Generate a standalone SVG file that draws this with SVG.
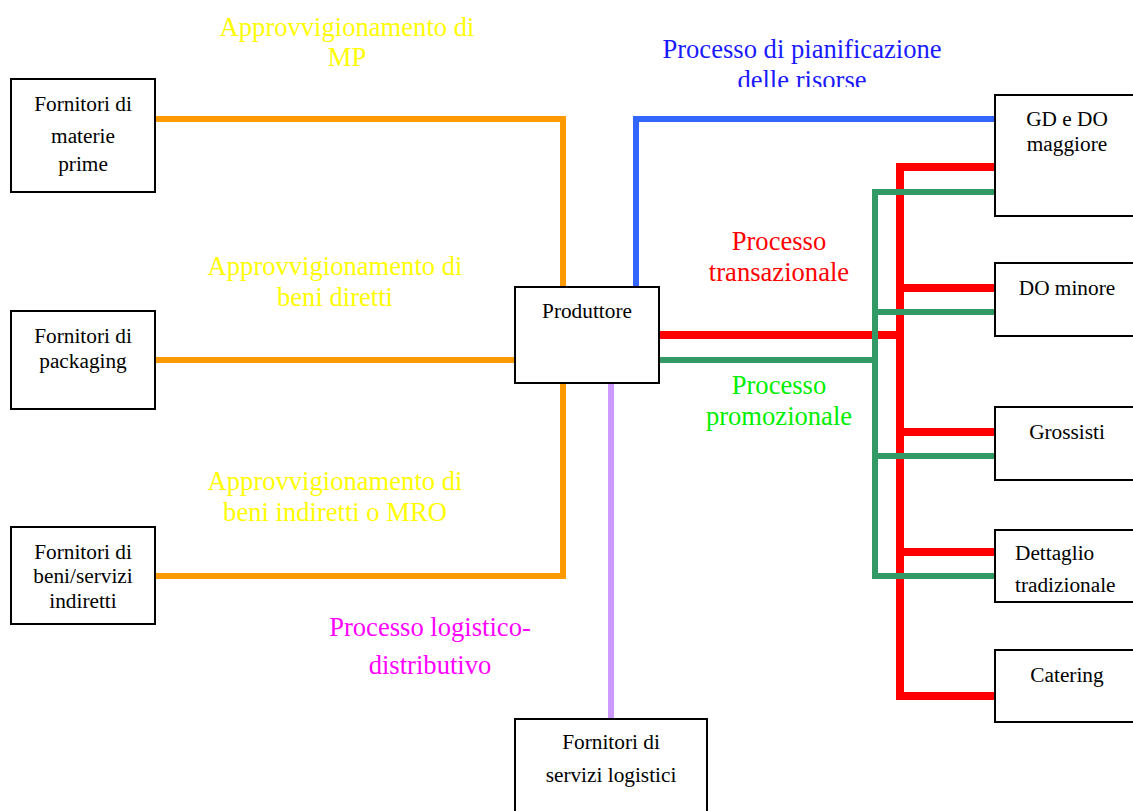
<svg xmlns="http://www.w3.org/2000/svg" width="1133" height="811" viewBox="0 0 1133 811">
  <style>
    .box { fill: #ffffff; stroke: #000000; stroke-width: 2; }
    .nt { font-family: 'Liberation Serif', 'DejaVu Serif', serif; font-size: 21.3px; fill: #000000; text-anchor: middle; }
    .nt.left { text-anchor: start; }
    .lbl { font-family: 'Liberation Serif', 'DejaVu Serif', serif; font-size: 26.6px; text-anchor: middle; }
    .c { fill: none; stroke-linejoin: miter; stroke-linecap: butt; }
    .orange { stroke: #FF9900; stroke-width: 6; }
    .blue { stroke: #3366FF; stroke-width: 6; }
    .red { stroke: #FF0000; stroke-width: 8; }
    .green { stroke: #339966; stroke-width: 6; }
    .purple { stroke: #CC99FF; stroke-width: 6; }
  </style>
  <defs>
    <clipPath id="topClip">
      <rect x="0" y="0" width="1133" height="87"/>
    </clipPath>
  </defs>
  <rect width="1133" height="811" fill="#ffffff"/>

  <!-- connectors -->
  <g id="connectors">
    <polyline class="c orange" points="155,119 563,119 563,287"/>
    <line class="c orange" x1="155" y1="360" x2="515" y2="360"/>
    <polyline class="c orange" points="155,576 563,576 563,383"/>
    <polyline class="c blue" points="636,287 636,119 995,119"/>
    <line class="c purple" x1="611" y1="383" x2="611" y2="719"/>
    <!-- transactional flow -->
    <polyline class="c red" points="659,335 900,335"/>
    <polyline class="c red" points="995,167 900,167 900,696 995,696"/>
    <line class="c red" x1="900" y1="288" x2="995" y2="288"/>
    <line class="c red" x1="900" y1="432" x2="995" y2="432"/>
    <line class="c red" x1="900" y1="552" x2="995" y2="552"/>
    <!-- promotional flow -->
    <polyline class="c green" points="659,360 875,360"/>
    <polyline class="c green" points="995,192 875,192 875,576 995,576"/>
    <line class="c green" x1="875" y1="312" x2="995" y2="312"/>
    <line class="c green" x1="875" y1="456" x2="995" y2="456"/>
  </g>

  <!-- process labels -->
  <g id="labels">
    <text class="lbl" fill="#FFFF00" x="347" y="36">Approvvigionamento di</text>
    <text class="lbl" fill="#FFFF00" x="347" y="66">MP</text>
    <text class="lbl" fill="#FFFF00" x="335" y="275">Approvvigionamento di</text>
    <text class="lbl" fill="#FFFF00" x="335" y="306">beni diretti</text>
    <text class="lbl" fill="#FFFF00" x="335" y="490">Approvvigionamento di</text>
    <text class="lbl" fill="#FFFF00" x="335" y="521">beni indiretti o MRO</text>
    <text class="lbl" fill="#FF00FF" x="430" y="636">Processo logistico-</text>
    <text class="lbl" fill="#FF00FF" x="430" y="674">distributivo</text>
    <g clip-path="url(#topClip)">
      <text class="lbl" fill="#1A1AFF" x="802" y="58">Processo di pianificazione</text>
      <text class="lbl" fill="#1A1AFF" x="802" y="89">delle risorse</text>
    </g>
    <text class="lbl" fill="#FF0000" x="779" y="250">Processo</text>
    <text class="lbl" fill="#FF0000" x="779" y="281">transazionale</text>
    <text class="lbl" fill="#00EE00" x="779" y="394">Processo</text>
    <text class="lbl" fill="#00EE00" x="779" y="425">promozionale</text>
  </g>

  <!-- nodes -->
  <g id="n-materie-prime">
    <rect class="box" x="11" y="79" width="144" height="113"/>
    <text class="nt" x="83" y="111">Fornitori di</text>
    <text class="nt" x="83" y="143">materie</text>
    <text class="nt" x="83" y="171">prime</text>
  </g>
  <g id="n-packaging">
    <rect class="box" x="11" y="311" width="144" height="98"/>
    <text class="nt" x="83" y="343">Fornitori di</text>
    <text class="nt" x="83" y="368">packaging</text>
  </g>
  <g id="n-indiretti">
    <rect class="box" x="11" y="527" width="144" height="97"/>
    <text class="nt" x="83" y="559">Fornitori di</text>
    <text class="nt" x="83" y="583">beni/servizi</text>
    <text class="nt" x="83" y="608">indiretti</text>
  </g>
  <g id="n-produttore">
    <rect class="box" x="515" y="287" width="144" height="96"/>
    <text class="nt" x="587" y="318">Produttore</text>
  </g>
  <g id="n-logistica">
    <rect class="box" x="515" y="719" width="192" height="100"/>
    <text class="nt" x="611" y="749">Fornitori di</text>
    <text class="nt" x="611" y="782">servizi logistici</text>
  </g>
  <g id="n-gd-do">
    <rect class="box" x="995" y="95" width="145" height="121"/>
    <text class="nt" x="1067" y="126">GD e DO</text>
    <text class="nt" x="1067" y="151">maggiore</text>
  </g>
  <g id="n-do-minore">
    <rect class="box" x="995" y="263" width="145" height="73"/>
    <text class="nt" x="1067" y="295">DO minore</text>
  </g>
  <g id="n-grossisti">
    <rect class="box" x="995" y="407" width="145" height="73"/>
    <text class="nt" x="1067" y="439">Grossisti</text>
  </g>
  <g id="n-dettaglio">
    <rect class="box" x="995" y="530" width="145" height="72"/>
    <text class="nt left" x="1015" y="560">Dettaglio</text>
    <text class="nt left" x="1015" y="592">tradizionale</text>
  </g>
  <g id="n-catering">
    <rect class="box" x="995" y="650" width="145" height="72"/>
    <text class="nt" x="1067" y="682">Catering</text>
  </g>
</svg>
